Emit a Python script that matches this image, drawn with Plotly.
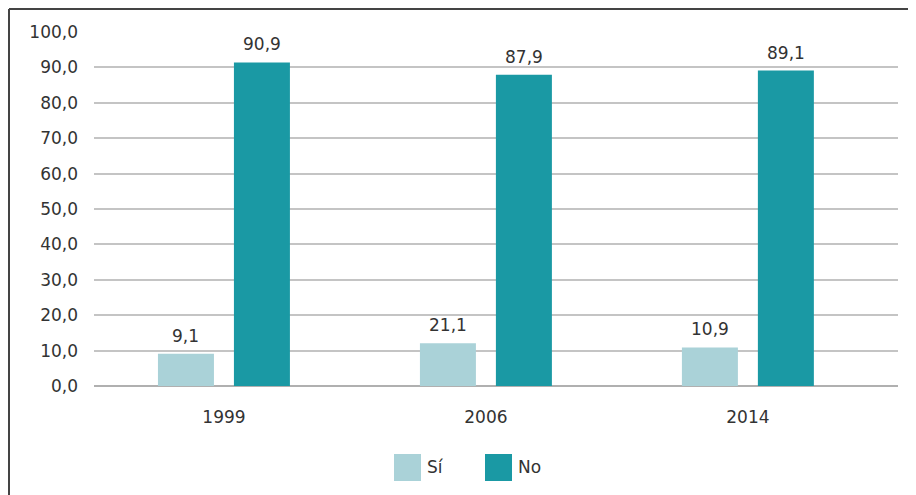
import plotly.graph_objects as go

years = ["1999", "2006", "2014"]
series_names = ["Sí", "No"]
si_values = [9.1, 12.1, 10.9]
no_values = [91.4, 87.9, 89.1]
si_labels = ["9,1", "21,1", "10,9"]
no_labels = ["90,9", "87,9", "89,1"]
y_ticks = [0, 10, 20, 30, 40, 50, 60, 70, 80, 90, 100]
y_tick_labels = ["0,0", "10,0", "20,0", "30,0", "40,0", "50,0", "60,0", "70,0", "80,0", "90,0", "100,0"]

colors = {"Sí": "#AAD2D8", "No": "#1A99A4"}
FONT = "DejaVu Sans"
FS = 17
TXT = "#333333"

OFF = 8  # page body margin
W, H = 908, 487
ML, MR, MT, MB = 86, 18, 24, 109
PW = W - ML - MR
PH = H - MT - MB

fig = go.Figure()
for name, vals in [("Sí", si_values), ("No", no_values)]:
    fig.add_trace(go.Bar(
        x=years, y=vals, name=name, marker_color=colors[name],
        marker_line_width=0, showlegend=False, hoverinfo="skip",
    ))

# data labels above each bar (category index positions on the category axis)
for i, yr in enumerate(years):
    for vals, labs, shift in [(si_values, si_labels, -38), (no_values, no_labels, 38)]:
        fig.add_annotation(x=i, y=vals[i], xref="x", yref="y", text=labs[i], showarrow=False,
                           xshift=shift, yshift=6, yanchor="bottom", xanchor="center",
                           font=dict(family=FONT, size=FS, color=TXT))

def px_to_paper_x(px):
    return (px - OFF - ML) / PW

def px_to_paper_y(py):
    return (H - MB - (py - OFF)) / PH

# frame lines (left and top)
fig.add_shape(type="line", xref="paper", yref="paper",
              x0=px_to_paper_x(9), x1=px_to_paper_x(9), y0=px_to_paper_y(9), y1=px_to_paper_y(500),
              line=dict(color="#444444", width=2))
fig.add_shape(type="line", xref="paper", yref="paper",
              x0=px_to_paper_x(9), x1=px_to_paper_x(920), y0=px_to_paper_y(9), y1=px_to_paper_y(9),
              line=dict(color="#444444", width=2))

# custom legend
legend_items = [(series_names[0], 394), (series_names[1], 485)]
for name, lx in legend_items:
    fig.add_shape(type="rect", xref="paper", yref="paper",
                  x0=px_to_paper_x(lx), x1=px_to_paper_x(lx + 27),
                  y0=px_to_paper_y(481), y1=px_to_paper_y(454),
                  fillcolor=colors[name], line_width=0)
    fig.add_annotation(xref="paper", yref="paper", x=px_to_paper_x(lx + 31), y=px_to_paper_y(467.5),
                       text=name, showarrow=False, xanchor="left", yanchor="middle",
                       font=dict(family=FONT, size=FS, color=TXT))

fig.update_layout(
    width=W, height=H,
    margin=dict(l=ML, r=MR, t=MT, b=MB),
    paper_bgcolor="white", plot_bgcolor="white",
    barmode="group", bargap=0.42, bargroupgap=0.263,
    font=dict(family=FONT, size=FS, color=TXT),
    xaxis=dict(type="category", range=[-0.496, 2.573], showgrid=False, showline=False, zeroline=False,
               ticks="", ticklabelstandoff=19, tickfont=dict(family=FONT, size=FS, color=TXT)),
    yaxis=dict(range=[0, 100], tickvals=y_ticks, ticktext=y_tick_labels,
               showgrid=True, gridcolor="#C4C4C4", gridwidth=1.5,
               zeroline=True, zerolinecolor="#B0B0B0", zerolinewidth=1.5,
               showline=False, ticks="", ticklabelstandoff=15,
               tickfont=dict(family=FONT, size=FS, color=TXT)),
)

fig.write_html("out.html")
